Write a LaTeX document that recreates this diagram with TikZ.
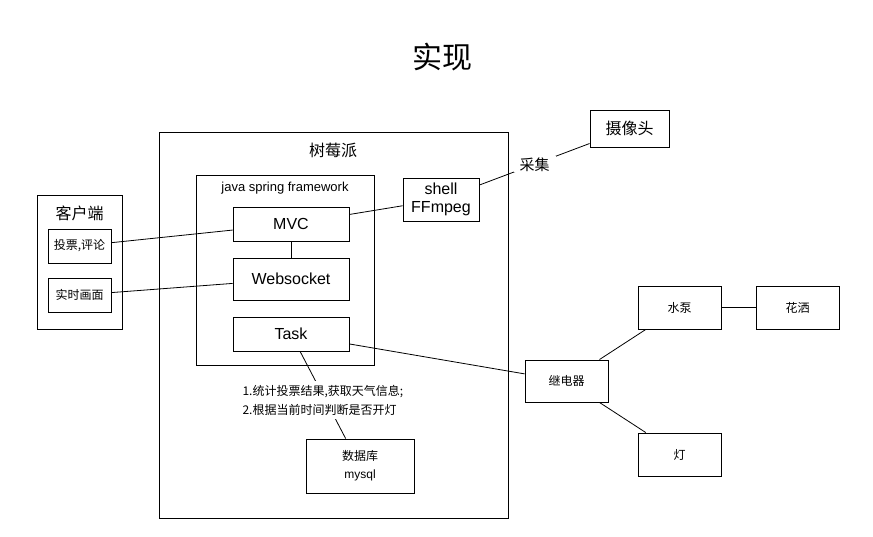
\documentclass[tikz,border=0pt]{standalone}
\usepackage{fontspec}
\setmainfont{Liberation Sans}
\newfontfamily\cjk{Noto Sans CJK SC}

\begin{document}
\begin{tikzpicture}[x=1pt,y=-1pt]
\useasboundingbox (0,0) rectangle (873,536);

\node[font=\cjk\fontsize{30}{36}\selectfont] (title) at (442,57) {实现};

\begin{scope}[every node/.style={draw,line width=0.9pt,inner sep=0pt,align=center}]
\node[minimum width=349, minimum height=386] (pi) at (333.5,325) {};
\node[minimum width=178, minimum height=190] (spring) at (285,270) {};
\node[minimum width=85, minimum height=134] (client) at (79.5,262) {};

\node[minimum width=116, minimum height=34, font=\fontsize{16}{18}\selectfont] (mvc) at (291,224) {MVC};
\node[minimum width=116, minimum height=42, font=\fontsize{16}{18}\selectfont] (ws) at (291,279) {Websocket};
\node[minimum width=116, minimum height=34, font=\fontsize{16}{18}\selectfont] (task) at (291,334) {Task};
\node[minimum width=76, minimum height=43, font=\fontsize{16}{18}\selectfont] (shell) at (441,199.5) {shell\\FFmpeg};
\node[minimum width=79, minimum height=37, font=\cjk\fontsize{16}{18}\selectfont] (cam) at (629.5,128.5) {摄像头};

\node[minimum width=63, minimum height=34, font=\cjk\fontsize{12}{14}\selectfont] (vote) at (79.5,246) {投票,评论};
\node[minimum width=63, minimum height=34, font=\cjk\fontsize{12}{14}\selectfont] (live) at (79.5,295) {实时画面};

\node[minimum width=108, minimum height=54, font=\cjk\fontsize{12}{18}\selectfont] (db) at (360,466) {数据库\\\fontspec{Liberation Sans}mysql};

\node[minimum width=83, minimum height=42, font=\cjk\fontsize{12}{14}\selectfont] (relay) at (566.5,381) {继电器};
\node[minimum width=83, minimum height=43, font=\cjk\fontsize{12}{14}\selectfont] (pump) at (679.5,307.5) {水泵};
\node[minimum width=83, minimum height=43, font=\cjk\fontsize{12}{14}\selectfont] (shower) at (797.5,307.5) {花洒};
\node[minimum width=83, minimum height=43, font=\cjk\fontsize{12}{14}\selectfont] (lamp) at (679.5,454.5) {灯};
\end{scope}

\node[font=\cjk\fontsize{16}{18}\selectfont] (pilabel) at (333,150) {树莓派};
\node[font=\fontsize{13}{15}\selectfont] (springlabel) at (285,188) {java spring framework};
\node[font=\cjk\fontsize{16}{18}\selectfont] (clientlabel) at (79.5,213) {客户端};

\draw[line width=0.8pt] (vote) -- (mvc);
\draw[line width=0.8pt] (live) -- (ws);
\draw[line width=0.8pt] (mvc) -- (ws);
\draw[line width=0.8pt] (mvc) -- (shell);
\draw[line width=0.8pt] (shell) -- node[fill=white, inner xsep=6pt, inner ysep=1pt, font=\cjk\fontsize{15}{17}\selectfont] {采集} (cam);
\draw[line width=0.8pt] (task) -- (relay);
\draw[line width=0.8pt] (task) -- node[fill=white, yshift=-5pt, align=left, inner xsep=2pt, inner ysep=4pt, font=\cjk\fontsize{12}{19}\selectfont] {1.统计投票结果,获取天气信息;\\2.根据当前时间判断是否开灯} (db);
\draw[line width=0.8pt] (relay) -- (pump);
\draw[line width=0.8pt] (relay) -- (lamp);
\draw[line width=0.8pt] (pump) -- (shower);

\end{tikzpicture}
\end{document}
